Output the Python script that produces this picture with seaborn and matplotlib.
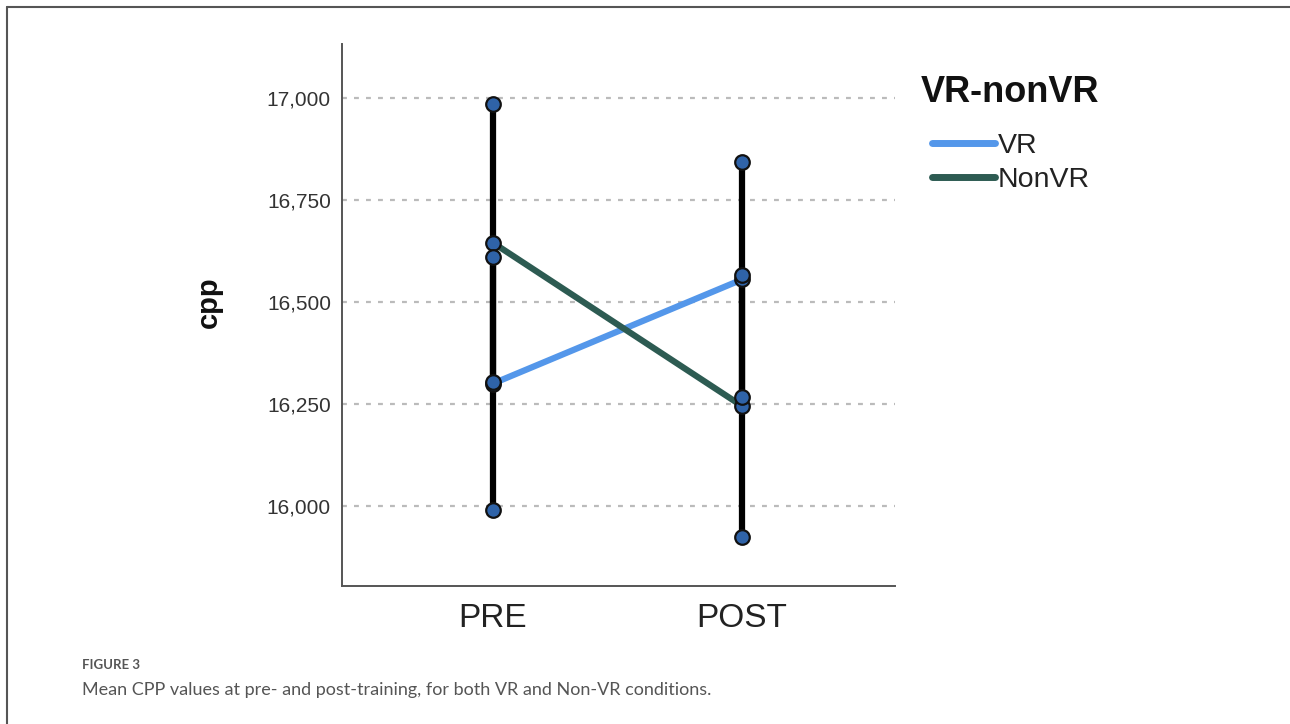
# Mean CPP at pre / post training, VR vs NonVR
import pandas as pd
import numpy as np
import matplotlib
matplotlib.use("Agg")
import matplotlib.pyplot as plt
import seaborn as sns
from matplotlib.ticker import FuncFormatter
from matplotlib.lines import Line2D

# Data
times = ["PRE", "POST"]
groups = ["VR", "NonVR"]
vr_mean = [16.300, 16.555]
vr_lower = [15.990, 16.267]
vr_upper = [16.610, 16.843]
nonvr_mean = [16.645, 16.245]
nonvr_lower = [16.305, 15.925]
nonvr_upper = [16.985, 16.565]
y_ticks = [16.0, 16.25, 16.5, 16.75, 17.0]

df = pd.DataFrame({
    "group": ["VR"] * 2 + ["NonVR"] * 2,
    "time": times * 2,
    "pos": [0, 1] * 2,
    "mean": vr_mean + nonvr_mean,
    "lower": vr_lower + nonvr_lower,
    "upper": vr_upper + nonvr_upper,
})

sns.set_theme(style="white")
plt.rcParams["font.family"] = ["Liberation Sans", "DejaVu Sans"]

fig = plt.figure(figsize=(12.9, 7.24), dpi=100)
ax = fig.add_axes([342 / 1290, 1 - 586 / 724, (895 - 342) / 1290, (586 - 44) / 724])

palette = {"VR": "#5497ea", "NonVR": "#2d5b52"}

# Group mean lines
sns.lineplot(data=df, x="pos", y="mean", hue="group", hue_order=groups,
             palette=palette, linewidth=4.5, ax=ax, zorder=2,
             solid_capstyle="round", legend=False)

# Error bars
ax.vlines(df["pos"], df["lower"], df["upper"], color="black", linewidth=4.5, zorder=3)

# Circles at means and bar ends
pts = pd.concat([
    df[["pos", "mean"]].rename(columns={"mean": "y"}),
    df[["pos", "lower"]].rename(columns={"lower": "y"}),
    df[["pos", "upper"]].rename(columns={"upper": "y"}),
])
sns.scatterplot(data=pts, x="pos", y="y", s=110, color="#2f63a8",
                edgecolor="#111111", linewidth=1.6, ax=ax, zorder=4, legend=False)

# Axes styling
ax.set_xlim(-0.606, 1.614)
ax.set_ylim(15.804, 17.132)
ax.set_xticks([0, 1])
ax.set_xticklabels(times, fontsize=24, color="#222222")
ax.set_yticks(y_ticks)
ax.yaxis.set_major_formatter(FuncFormatter(lambda v, p: f"{v:.3f}".replace(".", ",")))
ax.tick_params(axis="y", labelsize=15, labelcolor="#333333", length=0, pad=8)
ax.tick_params(axis="x", length=0, pad=12)
for v in y_ticks:
    ax.axhline(v, color="#bbbbbb", linewidth=1.6, linestyle=(0, (2.2, 3.2)), zorder=1)

ax.set_xlabel("")
ax.set_ylabel("cpp", fontsize=21, fontweight="bold", color="#111111")
ax.yaxis.set_label_coords(-0.215, 0.524)

sns.despine(ax=ax)
for s in ["left", "bottom"]:
    ax.spines[s].set_color("#555555")
    ax.spines[s].set_linewidth(1.4)

# Legend (title drawn separately so entries sit indented)
fig.text(921 / 1290, 1 - 92 / 724, "VR-nonVR", fontsize=26, fontweight="bold",
         color="#111111", va="center", ha="left")
handles = [Line2D([0], [0], color=palette[g], linewidth=5, solid_capstyle="round") for g in groups]
leg = ax.legend(handles, groups, loc="center left",
                bbox_to_anchor=(932 / 1290, 1 - 163 / 724), bbox_transform=fig.transFigure,
                frameon=False, fontsize=20.5, handlelength=2.2, handletextpad=0.1,
                labelspacing=0.3, borderaxespad=0, borderpad=0)
for t in leg.get_texts():
    t.set_color("#222222")

# Figure frame and caption
fig.add_artist(Line2D([7 / 1290, 7 / 1290], [0, 1 - 7 / 724], color="#555555", linewidth=1.5))
fig.add_artist(Line2D([7 / 1290, 1], [1 - 7 / 724, 1 - 7 / 724], color="#555555", linewidth=1.5))
fig.text(82 / 1290, 1 - 665 / 724, "FIGURE 3", fontsize=9.5, fontweight="bold", color="#555555",
         family=["Lato", "DejaVu Sans"], va="center")
fig.text(82 / 1290, 1 - 690 / 724, "Mean CPP values at pre- and post-training, for both VR and Non-VR conditions.",
         fontsize=13, color="#555555", family=["Lato", "DejaVu Sans"], va="center")

fig.savefig("out.png", dpi=100)
